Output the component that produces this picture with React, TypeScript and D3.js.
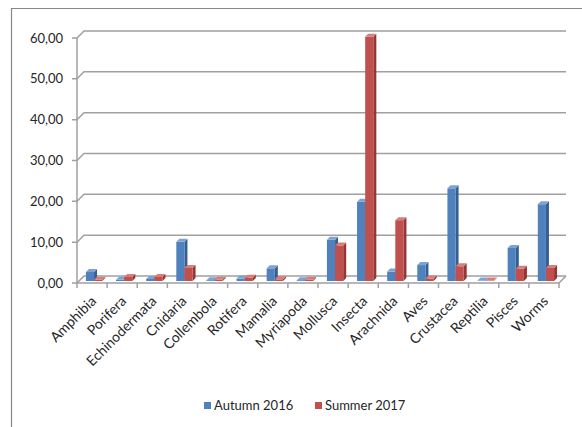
import { useEffect, useRef } from "react";
import * as d3 from "d3";

const categories = [
  "Amphibia", "Porifera", "Echinodermata", "Cnidaria", "Collembola", "Rotifera",
  "Mamalia", "Myriapoda", "Mollusca", "Insecta", "Arachnida", "Aves",
  "Crustacea", "Reptilia", "Pisces", "Worms",
];
const seriesNames = ["Autumn 2016", "Summer 2017"];
const autumn2016 = [2.2, 0.3, 0.5, 9.6, 0.2, 0.6, 3.1, 0.2, 10.1, 19.4, 2.3, 3.9, 22.7, 0.1, 8.1, 18.8];
const summer2017 = [0.3, 1.0, 1.0, 3.2, 0.3, 0.8, 0.4, 0.3, 8.7, 59.8, 14.9, 0.6, 3.6, 0.1, 3.0, 3.2];
const yTicks = [0, 10, 20, 30, 40, 50, 60];

const colors = ["#4F81BD", "#C0504D"];
const sideColors = ["#345E94", "#943634"];
const topColors = ["#7EA3D2", "#D87D7A"];

export default function App() {
  const svgRef = useRef<SVGSVGElement | null>(null);

  useEffect(() => {
    if (!svgRef.current) return;
    const svg = d3.select(svgRef.current);
    svg.selectAll("*").remove();

    const font = "Lato, 'Noto Sans', sans-serif";
    const depth = 7;
    const x0 = 77, x1 = 559;

    const x = d3.scaleBand<string>().domain(categories).range([x0, x1]);
    const inner = d3.scaleBand<string>().domain(seriesNames)
      .range([0, x.bandwidth()]).paddingOuter(0.85);
    const y = d3.scaleLinear().domain([0, 60]).range([283, 38]);

    // frame
    svg.append("path").attr("d", "M11.5,427 V8.5 H582")
      .attr("fill", "none").attr("stroke", "#878787").attr("stroke-width", 1.2);

    const grid = svg.append("g").attr("stroke", "#A0A0A0").attr("stroke-width", 1.5).attr("fill", "none");
    // back-wall gridlines
    yTicks.forEach((t) => {
      grid.append("path")
        .attr("d", `M${x0 - 5},${y(t)} L${x0},${y(t)} L${x0 + depth},${y(t) - depth} H${x1 + depth}`);
    });
    // left axis
    grid.append("line").attr("x1", x0).attr("x2", x0).attr("y1", y(60)).attr("y2", y(0));
    // floor
    grid.append("path")
      .attr("d", `M${x0},${y(0)} H${x1} L${x1 + depth},${y(0) - depth}`);
    // category ticks
    categories.forEach((c) => {
      const tx = x(c) as number;
      grid.append("line").attr("x1", tx).attr("x2", tx).attr("y1", y(0)).attr("y2", y(0) + 5);
    });
    grid.append("line").attr("x1", x1).attr("x2", x1).attr("y1", y(0)).attr("y2", y(0) + 5);

    // y labels
    svg.append("g").selectAll("text").data(yTicks).join("text")
      .attr("x", 63).attr("y", (d) => y(d)).attr("dy", "0.35em")
      .attr("text-anchor", "end").attr("font-family", font).attr("font-size", 13)
      .attr("fill", "#262626")
      .text((d) => d3.format(".2f")(d).replace(".", ","));

    // bars
    const shift = 2, bd = 3;
    const series = [autumn2016, summer2017];
    const bars = svg.append("g");
    categories.forEach((c, i) => {
      series.forEach((vals, s) => {
        const w = inner.bandwidth();
        const bx = (x(c) as number) + (inner(seriesNames[s]) as number) + shift;
        const base = y(0) - shift;
        const top = y(vals[i]) - shift;
        bars.append("path")
          .attr("d", `M${bx + w},${base} L${bx + w + bd},${base - bd} V${top - bd} L${bx + w},${top} Z`)
          .attr("fill", sideColors[s]);
        bars.append("rect").attr("x", bx).attr("y", top).attr("width", w).attr("height", Math.max(0, base - top))
          .attr("fill", colors[s]);
        bars.append("path")
          .attr("d", `M${bx},${top} L${bx + bd},${top - bd} H${bx + w + bd} L${bx + w},${top} Z`)
          .attr("fill", topColors[s]);
      });
    });

    // category labels
    svg.append("g").selectAll("text").data(categories).join("text")
      .attr("transform", (d) => `translate(${(x(d) as number) + x.bandwidth() / 2 + 5},${y(0) + 19}) rotate(-45)`)
      .attr("text-anchor", "end").attr("font-family", font).attr("font-size", 14)
      .attr("fill", "#262626")
      .text((d) => d);

    // legend
    const legend = svg.append("g");
    const lx = [204, 315];
    seriesNames.forEach((n, s) => {
      legend.append("rect").attr("x", lx[s]).attr("y", 402).attr("width", 7).attr("height", 7).attr("fill", colors[s]);
      legend.append("text").attr("x", lx[s] + 10).attr("y", 405.5).attr("dy", "0.35em")
        .attr("font-family", font).attr("font-size", 13).attr("fill", "#262626").text(n);
    });
  }, []);

  return (
    <svg ref={svgRef} width={582} height={427}
      style={{ position: "absolute", left: 0, top: 0, background: "#fff" }} />
  );
}
